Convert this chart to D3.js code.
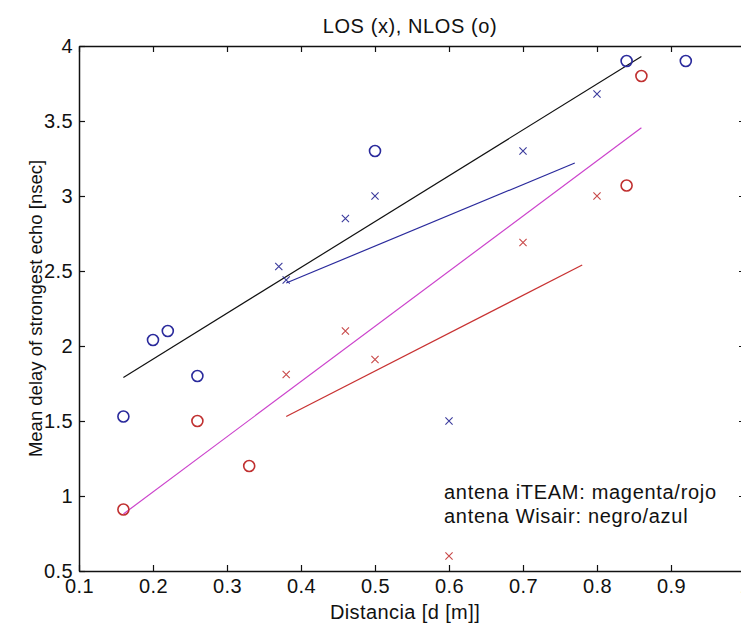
<!DOCTYPE html>
<html>
<head>
<meta charset="utf-8">
<script src="https://cdn.jsdelivr.net/npm/d3@7/dist/d3.min.js"></script>
<style>
  html, body { margin: 0; padding: 0; background: #fff; }
  svg { display: block; }
  text { font-family: "Liberation Sans", Arial, sans-serif; fill: #111; }
</style>
</head>
<body>
<svg id="chart" width="741" height="624"></svg>
<script>
// Axis ticks
const xTicks = [0.1, 0.2, 0.3, 0.4, 0.5, 0.6, 0.7, 0.8, 0.9, 1.0];
const yTicks = [0.5, 1, 1.5, 2, 2.5, 3, 3.5, 4];

// Wisair antenna: NLOS (circles) and LOS (crosses)
const wisairNlosD = [0.16, 0.20, 0.22, 0.26, 0.50, 0.84, 0.92];
const wisairNlosDelay = [1.53, 2.04, 2.10, 1.80, 3.30, 3.90, 3.90];
const wisairLosD = [0.37, 0.38, 0.46, 0.50, 0.60, 0.70, 0.80];
const wisairLosDelay = [2.53, 2.44, 2.85, 3.00, 1.50, 3.30, 3.68];

// iTEAM antenna: NLOS (circles) and LOS (crosses)
const iteamNlosD = [0.16, 0.26, 0.33, 0.84, 0.86];
const iteamNlosDelay = [0.91, 1.50, 1.20, 3.07, 3.80];
const iteamLosD = [0.38, 0.46, 0.50, 0.60, 0.70, 0.80];
const iteamLosDelay = [1.81, 2.10, 1.91, 0.60, 2.69, 3.00];

// Fitted trend lines (end points)
const wisairNlosFitD = [0.16, 0.86];
const wisairNlosFitDelay = [1.79, 3.93];
const wisairLosFitD = [0.38, 0.77];
const wisairLosFitDelay = [2.42, 3.22];
const iteamNlosFitD = [0.16, 0.86];
const iteamNlosFitDelay = [0.88, 3.455];
const iteamLosFitD = [0.38, 0.78];
const iteamLosFitDelay = [1.53, 2.54];

const svg = d3.select("#chart");
const plot = { left: 79, right: 745, top: 46, bottom: 571 };

const x = d3.scaleLinear().domain([0.1, 1.0]).range([plot.left, plot.right]);
const y = d3.scaleLinear().domain([0.5, 4]).range([plot.bottom, plot.top]);

const fmt = d => String(+d.toFixed(1));
const fontSize = 20;

// Box axes with inward ticks
function styleAxis(g) {
  g.select(".domain").attr("stroke", "#111").attr("stroke-width", 1.5);
  g.selectAll(".tick line").attr("stroke", "#111").attr("stroke-width", 1.2);
  g.selectAll(".tick text")
    .attr("font-size", fontSize)
    .attr("font-family", "Liberation Sans, Arial, sans-serif")
    .attr("letter-spacing", 0.4)
    .attr("fill", "#111");
}

svg.append("g")
  .attr("transform", `translate(0,${plot.bottom})`)
  .call(d3.axisBottom(x).tickValues(xTicks).tickFormat(fmt).tickSizeInner(-6).tickSizeOuter(0).tickPadding(8))
  .call(styleAxis);

svg.append("g")
  .attr("transform", `translate(0,${plot.top})`)
  .call(d3.axisTop(x).tickValues(xTicks).tickFormat("").tickSizeInner(-6).tickSizeOuter(0))
  .call(styleAxis);

svg.append("g")
  .attr("transform", `translate(${plot.left},0)`)
  .call(d3.axisLeft(y).tickValues(yTicks).tickFormat(fmt).tickSizeInner(-6).tickSizeOuter(0).tickPadding(6))
  .call(styleAxis);

svg.append("g")
  .attr("transform", `translate(${plot.right},0)`)
  .call(d3.axisRight(y).tickValues(yTicks).tickFormat("").tickSizeInner(-6).tickSizeOuter(0))
  .call(styleAxis);

// Trend lines
const line = d3.line().x(d => x(d[0])).y(d => y(d[1]));
const fits = [
  { d: wisairNlosFitD, v: wisairNlosFitDelay, color: "#111111" },
  { d: wisairLosFitD, v: wisairLosFitDelay, color: "#2a2a9c" },
  { d: iteamNlosFitD, v: iteamNlosFitDelay, color: "#cc44cc" },
  { d: iteamLosFitD, v: iteamLosFitDelay, color: "#c83232" }
];
fits.forEach(f => {
  svg.append("path")
    .datum(d3.zip(f.d, f.v))
    .attr("d", line)
    .attr("fill", "none")
    .attr("stroke", f.color)
    .attr("stroke-width", 1.2);
});

// Markers
function circles(ds, vs, color) {
  svg.append("g").selectAll("circle")
    .data(d3.zip(ds, vs))
    .join("circle")
    .attr("cx", d => x(d[0]))
    .attr("cy", d => y(d[1]))
    .attr("r", 5.5)
    .attr("fill", "none")
    .attr("stroke", color)
    .attr("stroke-width", 1.6);
}
function crosses(ds, vs, color) {
  const s = 3.6;
  svg.append("g").selectAll("path")
    .data(d3.zip(ds, vs))
    .join("path")
    .attr("d", d => {
      const cx = x(d[0]), cy = y(d[1]);
      return `M${cx - s},${cy - s}L${cx + s},${cy + s}M${cx - s},${cy + s}L${cx + s},${cy - s}`;
    })
    .attr("fill", "none")
    .attr("stroke", color)
    .attr("stroke-width", 1.1);
}

circles(wisairNlosD, wisairNlosDelay, "#2a2a9c");
crosses(wisairLosD, wisairLosDelay, "#3a3a9c");
circles(iteamNlosD, iteamNlosDelay, "#c03030");
crosses(iteamLosD, iteamLosDelay, "#c84848");

// Title and axis labels
svg.append("text")
  .attr("x", 410).attr("y", 33)
  .attr("text-anchor", "middle")
  .attr("font-size", fontSize)
  .attr("letter-spacing", 0.6)
  .text("LOS (x), NLOS (o)");

svg.append("text")
  .attr("x", 405).attr("y", 619)
  .attr("text-anchor", "middle")
  .attr("font-size", fontSize)
  .attr("letter-spacing", 0.4)
  .text("Distancia [d [m]]");

svg.append("text")
  .attr("transform", `translate(42,${(plot.top + plot.bottom) / 2}) rotate(-90)`)
  .attr("text-anchor", "middle")
  .attr("font-size", 18.5)
  .text("Mean delay of strongest echo [nsec]");

// Antenna colour key
const notes = ["antena iTEAM: magenta/rojo", "antena Wisair: negro/azul"];
svg.append("g").selectAll("text")
  .data(notes)
  .join("text")
  .attr("x", 444)
  .attr("y", (d, i) => 499 + i * 23.7)
  .attr("font-size", fontSize)
  .attr("letter-spacing", 0.7)
  .text(d => d);
</script>
</body>
</html>
